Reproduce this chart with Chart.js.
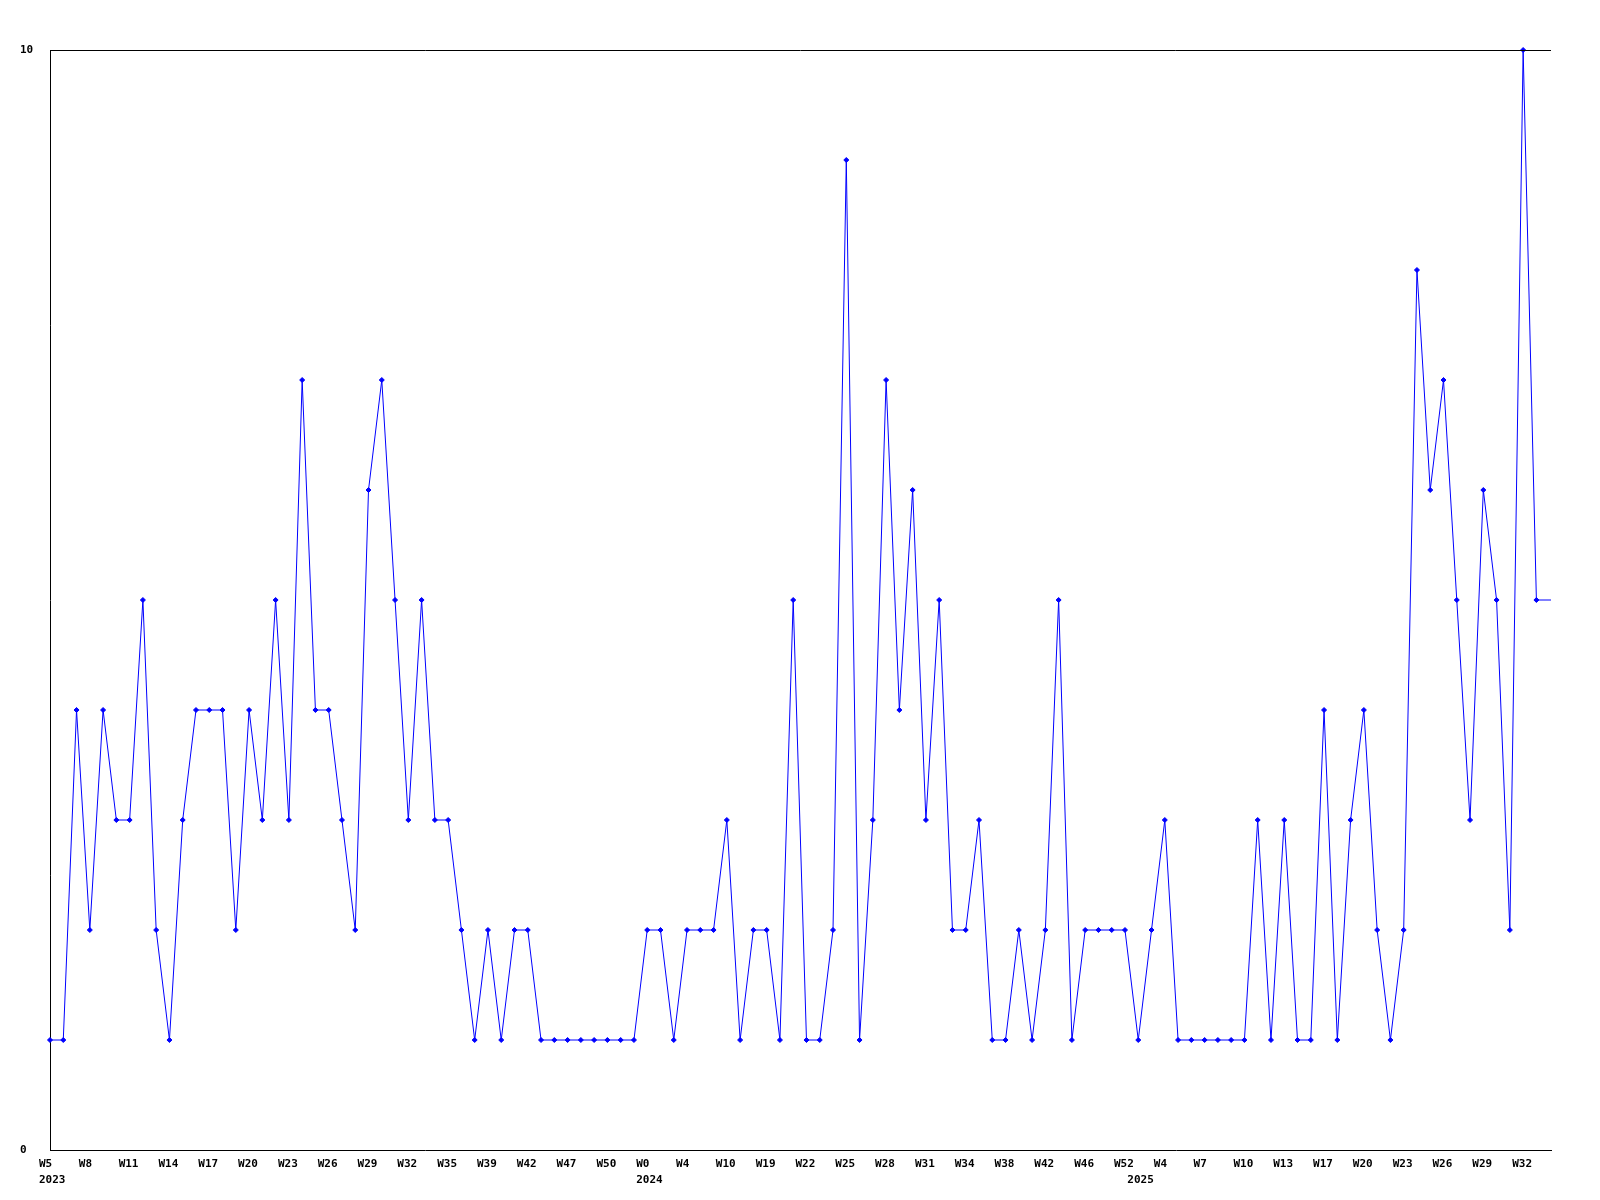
<!DOCTYPE html>
<html>
<head>
<meta charset="utf-8">
<script src="https://cdn.jsdelivr.net/npm/chart.js@4/dist/chart.umd.min.js"></script>
<style>
  body { margin: 0; background: #fff; }
  #wrap { width: 1600px; height: 1200px; }
</style>
</head>
<body>
<div id="wrap"><canvas id="myChart" width="1600" height="1200"></canvas></div>
<script>
// data: one value per week, week labels every 3rd point
const values = [1, 1, 4, 2, 4, 3, 3, 5, 2, 1, 3, 4, 4, 4, 2, 4, 3, 5, 3, 7,
                4, 4, 3, 2, 6, 7, 5, 3, 5, 3, 3, 2, 1, 2, 1, 2, 2, 1, 1, 1,
                1, 1, 1, 1, 1, 2, 2, 1, 2, 2, 2, 3, 1, 2, 2, 1, 5, 1, 1, 2,
                9, 1, 3, 7, 4, 6, 3, 5, 2, 2, 3, 1, 1, 2, 1, 2, 5, 1, 2, 2,
                2, 2, 1, 2, 3, 1, 1, 1, 1, 1, 1, 3, 1, 3, 1, 1, 4, 1, 3, 4,
                2, 1, 2, 8, 6, 7, 5, 3, 6, 5, 2, 10, 5];
const tickWeeks = ["W5", "W8", "W11", "W14", "W17", "W20", "W23", "W26", "W29", "W32", "W35", "W39", "W42",
                   "W47", "W50", "W0", "W4", "W10", "W19", "W22", "W25", "W28", "W31", "W34", "W38", "W42",
                   "W46", "W52", "W4", "W7", "W10", "W13", "W17", "W20", "W23", "W26", "W29", "W32"];
const years = ["2023", "2024", "2025"];
const yearStart = [0, 45, 82];   // index of first week of each year
const yTicks = [0, 10];
const labelEvery = 3;

const font = { family: "'DejaVu Sans Mono', monospace", size: 11, weight: 'bold', lineHeight: 1.4 };

// frame line on top + last value carried to the right edge
const framePlugin = {
    id: 'frame',
    afterDatasetsDraw(chart) {
        const { ctx, chartArea } = chart;
        const meta = chart.getDatasetMeta(0);
        const last = meta.data[meta.data.length - 1];
        ctx.save();
        ctx.strokeStyle = '#0000ff';
        ctx.lineWidth = 1;
        ctx.beginPath();
        ctx.moveTo(last.x, last.y);
        ctx.lineTo(chartArea.right, last.y);
        ctx.stroke();
        ctx.strokeStyle = '#000';
        ctx.beginPath();
        ctx.moveTo(chartArea.left, chartArea.top + 0.5);
        ctx.lineTo(chartArea.right, chartArea.top + 0.5);
        ctx.stroke();
        ctx.restore();
    }
};

const ctx = document.getElementById('myChart');
const myChart = new Chart(ctx, {
    type: 'line',
    data: {
        datasets: [{
            data: values.map((v, i) => ({ x: i, y: v })),
            borderColor: '#0000ff',
            backgroundColor: '#0000ff',
            borderWidth: 1,
            pointStyle: 'rectRot',
            pointRadius: 2.5,
            pointBorderWidth: 1,
            tension: 0,
            clip: false
        }]
    },
    plugins: [framePlugin],
    options: {
        responsive: false,
        animation: false,
        layout: { padding: { left: 20, top: 50, right: 49, bottom: 0 } },
        plugins: { legend: { display: false }, tooltip: { enabled: false } },
        scales: {
            x: {
                type: 'linear',
                min: 0,
                max: 113.1,
                grid: { display: false, drawTicks: false },
                border: { display: true, color: '#000', width: 1 },
                afterFit: s => { s.height = 22; },
                afterBuildTicks: s => {
                    s.ticks = tickWeeks.map((w, i) => ({ value: i * labelEvery }));
                },
                ticks: {
                    autoSkip: false,
                    maxRotation: 0,
                    align: 'start',
                    labelOffset: -11,
                    padding: 6,
                    color: '#000',
                    font: font,
                    callback: v => tickWeeks[Math.round(v / labelEvery)] || ''
                }
            },
            years: {
                type: 'linear',
                position: 'bottom',
                min: 0,
                max: 113.1,
                grid: { display: false, drawTicks: false },
                border: { display: false },
                afterFit: s => { s.height = 28; },
                afterBuildTicks: s => { s.ticks = yearStart.map(v => ({ value: v })); },
                ticks: {
                    autoSkip: false,
                    maxRotation: 0,
                    align: 'start',
                    labelOffset: -11,
                    padding: 0,
                    color: '#000',
                    font: font,
                    callback: v => years[yearStart.indexOf(v)] || ''
                }
            },
            y: {
                min: 0,
                max: 10,
                grid: { display: false, drawTicks: false },
                border: { display: true, color: '#000', width: 1 },
                afterFit: s => { s.width = 30; },
                afterBuildTicks: s => { s.ticks = yTicks.map(v => ({ value: v })); },
                ticks: {
                    crossAlign: 'far',
                    color: '#000',
                    font: font
                }
            }
        }
    }
});
</script>
</body>
</html>
